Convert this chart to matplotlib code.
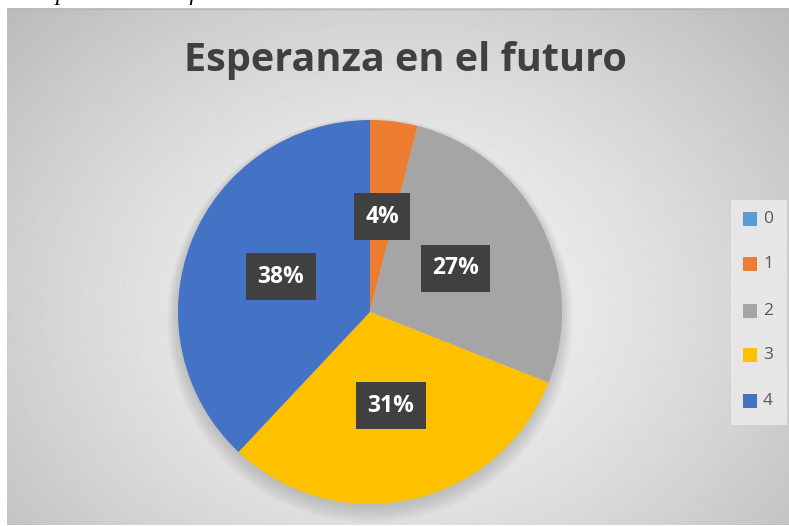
import numpy as np
import matplotlib
matplotlib.use("Agg")
import matplotlib.pyplot as plt
from matplotlib.patches import Rectangle, Circle

# data
categories = ['0', '1', '2', '3', '4']
values = [0, 4, 27, 31, 38]
colors = ['#5B9BD5', '#ED7D31', '#A5A5A5', '#FFC000', '#4472C4']
title = 'Esperanza en el futuro'

plt.rcParams['font.family'] = ['Open Sans', 'DejaVu Sans']

W, H = 789, 526
fig = plt.figure(figsize=(W / 100, H / 100), dpi=100)
fig.patch.set_facecolor('white')

# radial gradient background of the chart area
x0 = 7 / W
bg = fig.add_axes([x0, 0.0, 1 - x0, 1 - 8 / H])
bg.set_axis_off()
yy, xx = np.mgrid[0:H - 8, 0:W - 7]
cx, cy = 390, 300
d = np.sqrt(((xx - cx) / 520.0) ** 2 + ((yy - cy) / 420.0) ** 2)
g = np.clip(0.96 - 0.22 * d ** 1.4, 0.72, 1)
bg.imshow(g, cmap='gray', vmin=0, vmax=1, aspect='auto', interpolation='bilinear')
bg.plot([0, W], [0.5, 0.5], color='#b8b8b8', lw=1)
bg.set_xlim(0, W - 7)
bg.set_ylim(H - 8, 0)

# partially cut caption above the chart
fig.text(-0.095, 1.011, 'Figura 12. Esperanza en el futuro', family='Liberation Serif',
         style='italic', fontsize=17, color='black', va='center', ha='left')

# pie
r = 192
cxp, cyp = 370, 312
ax = fig.add_axes([(cxp - r) / W, (H - cyp - r) / H, 2 * r / W, 2 * r / H])

# soft shadow
for k in range(8):
    ax.add_patch(Circle((0, -0.015 - k * 0.004), 1.0 + k * 0.008, color='black',
                        alpha=0.018, lw=0, zorder=0, clip_on=False))

wedges, texts, autotexts = ax.pie(
    values, colors=colors, startangle=90, counterclock=False, radius=1,
    autopct=lambda p: '' if p < 0.5 else '%d%%' % round(p), pctdistance=0.5,
    wedgeprops=dict(linewidth=0), frame=False)
for t in autotexts:
    t.set_color('white')
    t.set_fontsize(16.5)
    t.set_fontweight('bold')
    if t.get_text():
        t.set_bbox(dict(boxstyle='square,pad=0.5', facecolor='#404040',
                        edgecolor='none'))
ax.set_aspect('auto')
ax.set_xlim(-1, 1)
ax.set_ylim(-1, 1)
ax.set_axis_off()

# title
fig.text(405 / W, 1 - 60 / H, title, fontsize=28.5, fontweight='bold',
         color='#404040', ha='center', va='center')

# legend
lg = fig.add_axes([731 / W, (H - 425) / H, 56 / W, 225 / H])
lg.set_xlim(0, 56)
lg.set_ylim(225, 0)
lg.set_axis_off()
lg.add_patch(Rectangle((0, 0), 56, 225, facecolor='#e6e6e6', edgecolor='none'))
ys = [19, 64, 111, 155, 201]
for c, lab, yv in zip(colors, categories, ys):
    lg.add_patch(Rectangle((12, yv - 7), 14, 14, facecolor=c, edgecolor='none'))
    lg.text(32, yv, lab, fontsize=12.5, color='#595959', va='center', ha='left')

fig.savefig('out.png', dpi=100)
